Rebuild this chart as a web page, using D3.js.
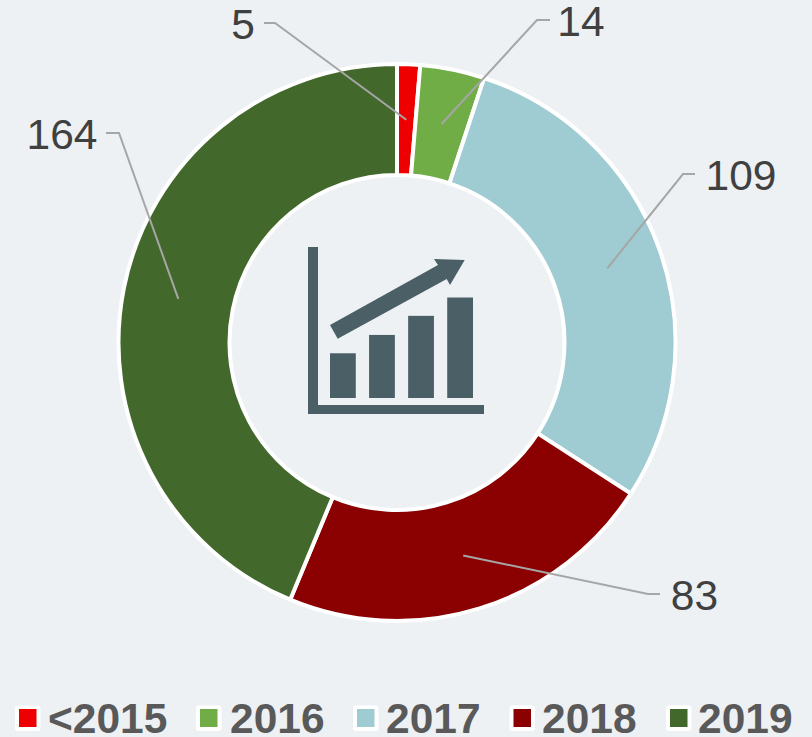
<!DOCTYPE html>
<html><head><meta charset="utf-8">
<script src="https://cdnjs.cloudflare.com/ajax/libs/d3/7.8.5/d3.min.js"></script>
<style>html,body{margin:0;padding:0;background:#edf1f4}svg{display:block}</style>
</head><body><svg id="c" width="812" height="737"></svg>
<script>
const categories = ["<2015","2016","2017","2018","2019"];
const values = [5,14,109,83,164];
const colors = ["#ee0000","#70ad47","#9fcbd2","#8b0000","#43682b"];
const iconBars = [1,2,3,4];
const iconHeights = [1.78,2.51,3.27,4];

// layout
const cx=397, cy=342.5, R=278.5, r=167.5;
const labelLayout = [
  {elbow:[275,23], end:[264,23], text:[243,39]},
  {elbow:[537,20], end:[550,20], text:[581,36]},
  {elbow:[683,174],end:[695,174],text:[741,190]},
  {elbow:[648,594],end:[660,594],text:[694.5,610]},
  {elbow:[119,133],end:[106,133],text:[62,149]}
];

const svg=d3.select("#c");
const pie=d3.pie().sort(null).value(d=>d)(values);
const arc=d3.arc().innerRadius(r).outerRadius(R);
const g=svg.append("g").attr("transform",`translate(${cx},${cy})`);
g.selectAll("path").data(pie).join("path")
  .attr("d",arc).attr("fill",(d,i)=>colors[i])
  .attr("stroke","#fff").attr("stroke-width",4).attr("stroke-linejoin","round");

// leader lines start at slice centroids
const line=d3.line();
svg.selectAll("path.leader").data(pie).join("path").attr("class","leader")
  .attr("fill","none").attr("stroke","#a6a6a6").attr("stroke-width",2)
  .attr("d",(d,i)=>{const c=arc.centroid(d);return line([[cx+c[0],cy+c[1]],labelLayout[i].elbow,labelLayout[i].end]);});
svg.selectAll("text.val").data(values).join("text").attr("class","val")
  .attr("x",(d,i)=>labelLayout[i].text[0]).attr("y",(d,i)=>labelLayout[i].text[1])
  .attr("text-anchor","middle")
  .attr("font-family","'Liberation Sans',Arial,sans-serif").attr("font-size",42.5)
  .attr("fill","#404040").text(d=>d);

// central icon
const ink="#4b5f66";
const icon=svg.append("g").attr("fill",ink);
icon.append("path").attr("d","M308 247H318V405H484V414H308Z");
const bx=d3.scaleBand().domain(iconBars).range([330,473]).paddingInner(0.34).paddingOuter(0);
const by=d3.scaleLinear().domain([0,4]).range([398,297.5]);
icon.selectAll("rect").data(iconBars).join("rect")
  .attr("x",d=>bx(d)).attr("width",bx.bandwidth())
  .attr("y",(d,i)=>by(iconHeights[i])).attr("height",(d,i)=>by(0)-by(iconHeights[i]));
icon.append("path").attr("d","M330 325L337.7 338.7L446.7 279L450 285L464.7 260L434 259L438 265Z");

// legend
const legendX=[15,196,353,509.5,666], textX=[48,230,386,542,698];
const lg=svg.selectAll("g.lg").data(categories).join("g").attr("class","lg");
lg.append("rect").attr("x",(d,i)=>legendX[i]).attr("y",705.5).attr("width",25.5).attr("height",25.5).attr("rx",3).attr("fill","#fff");
lg.append("rect").attr("x",(d,i)=>legendX[i]+4).attr("y",709).attr("width",17.5).attr("height",18).attr("fill",(d,i)=>colors[i]);
lg.append("text").attr("x",(d,i)=>textX[i]).attr("y",732.5)
  .attr("font-family","'Liberation Sans',Arial,sans-serif").attr("font-weight","bold").attr("font-size",42.5)
  .attr("fill","#595959").text(d=>d);
</script></body></html>
